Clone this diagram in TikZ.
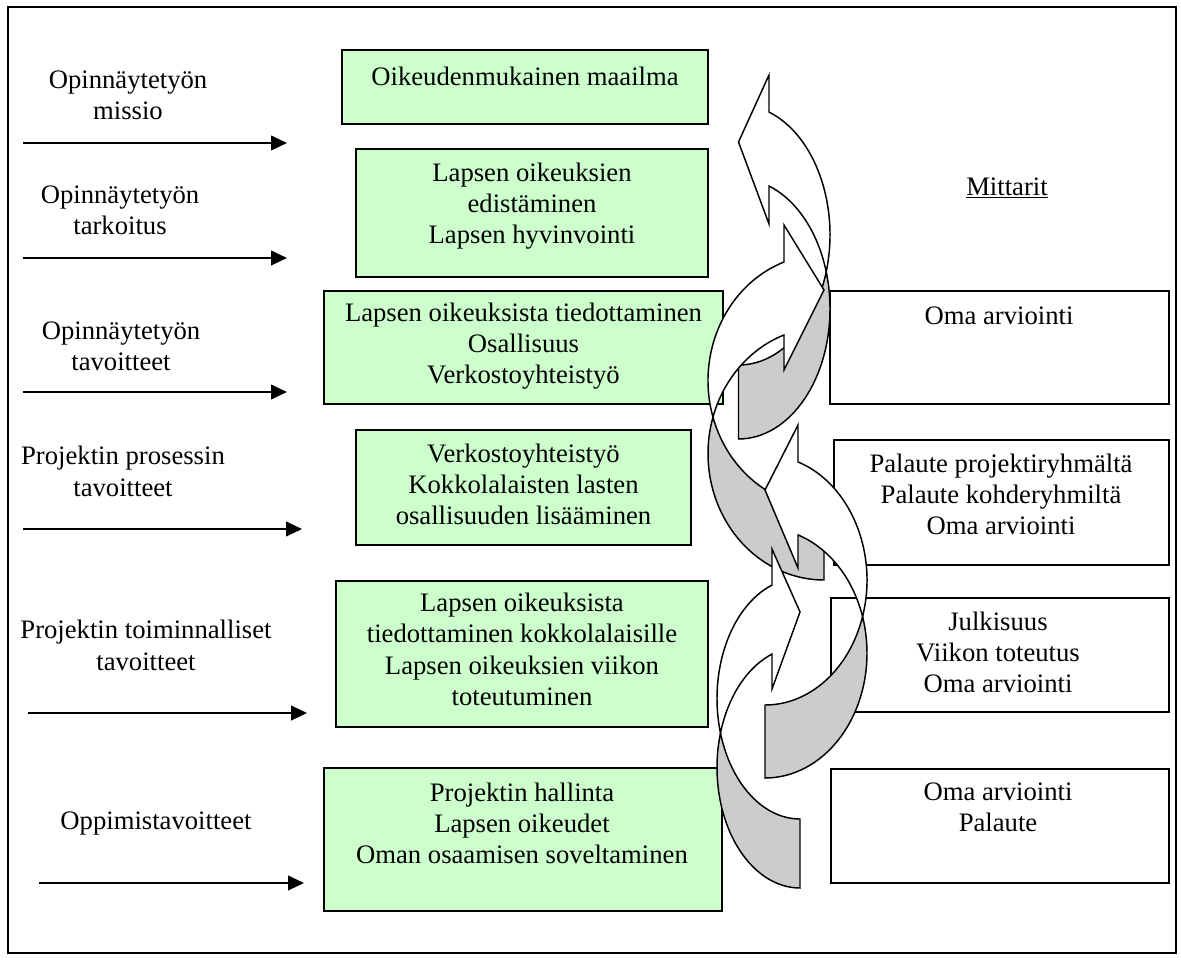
\documentclass[tikz,border=0pt]{standalone}
\usepackage{fontspec}
\setmainfont{Liberation Serif}
\usetikzlibrary{calc,arrows.meta}
\definecolor{boxgreen}{HTML}{CCFFCC}
\definecolor{backgray}{HTML}{CCCCCC}
\tikzset{
  txt/.style={font=\fontsize{20}{23.5}\selectfont, align=center, inner sep=0pt,
    execute at begin node=\strut, execute at end node=\strut},
  sz/.style n args={2}{minimum width=#1*0.75pt, minimum height=#2*0.75pt, inner sep=0pt},
  gbox/.style={draw=black, line width=1.5pt, fill=boxgreen},
  wbox/.style={draw=black, line width=1.5pt, fill=white},
  inarrow/.style={line width=1.5pt, -{Triangle[length=12pt,width=11pt]}},
  frontband/.style={draw=black, line width=1.1pt, fill=white},
  backband/.style={draw=black, line width=1.1pt, fill=backgray},
}
% curved arrow, band on the left, head at the top pointing right
% #1 r, #2 bottom, #3 w, #4 hR, #5 thickness, #6 head length, #7 head top, #8 tip y, #9 head bottom
\newcommand\CurvR[9]{%
  \pgfmathsetmacro\cvA{#2-#4}%
  \pgfmathsetmacro\cvB{#2-#4-#5}%
  \pgfmathsetmacro\cvN{360-acos(-#6/#3)}%
  \pgfmathsetmacro\cvD{asin(#5/(2*#4))}%
  \pgfmathsetmacro\cvIA{180+\cvD}%
  \pgfmathsetmacro\cvIB{180-\cvD}%
  \pgfmathsetmacro\cvX{#1-#6}%
  \pgfmathsetmacro\cvT{#2-#5}%
  \draw[backband] ($(#1,\cvA)+(\cvIA:#3 and #4)$) arc[start angle=\cvIA, end angle=90, x radius=#3, y radius=#4] -- (#1,\cvT) arc[start angle=90, end angle=\cvIB, x radius=#3, y radius=#4] -- cycle;
  \draw[frontband] ($(#1,\cvB)+(\cvIB:#3 and #4)$) arc[start angle=\cvIB, end angle=\cvN, x radius=#3, y radius=#4] -- (\cvX,#7) -- (#1,#8) -- (\cvX,#9) -- ($(#1,\cvA)+(\cvN:#3 and #4)$) arc[start angle=\cvN, end angle=\cvIA, x radius=#3, y radius=#4] -- cycle;
}
% curved arrow, band on the right, head at the top pointing left
\newcommand\CurvL[9]{%
  \pgfmathsetmacro\cvA{#2-#4}%
  \pgfmathsetmacro\cvB{#2-#4-#5}%
  \pgfmathsetmacro\cvN{acos(-#6/#3)-180}%
  \pgfmathsetmacro\cvD{asin(#5/(2*#4))}%
  \pgfmathsetmacro\cvX{#1+#6}%
  \pgfmathsetmacro\cvT{#2-#5}%
  \draw[backband] ($(#1,\cvA)+(-\cvD:#3 and #4)$) arc[start angle=-\cvD, end angle=90, x radius=#3, y radius=#4] -- (#1,\cvT) arc[start angle=90, end angle=\cvD, x radius=#3, y radius=#4] -- cycle;
  \draw[frontband] ($(#1,\cvB)+(\cvD:#3 and #4)$) arc[start angle=\cvD, end angle=\cvN, x radius=#3, y radius=#4] -- (\cvX,#7) -- (#1,#8) -- (\cvX,#9) -- ($(#1,\cvA)+(\cvN:#3 and #4)$) arc[start angle=\cvN, end angle=-\cvD, x radius=#3, y radius=#4] -- cycle;
}
\begin{document}
\begin{tikzpicture}[x=0.75pt,y=-0.75pt]
\useasboundingbox (0,0) rectangle (1181,960);
\draw[line width=1.5pt] (8,7) rectangle (1176,953);

% left labels and arrows
\node[txt] (l1) at (128,100) {Opinnäytetyön\\missio};
\node[txt] (l2) at (120,215) {Opinnäytetyön\\tarkoitus};
\node[txt] (l3) at (121,351) {Opinnäytetyön\\tavoitteet};
\node[txt] (l4) at (123,476) {Projektin prosessin\\tavoitteet};
\node[txt] (l5) at (146,650) {Projektin toiminnalliset\\tavoitteet};
\node[txt] (l6) at (156,823) {Oppimistavoitteet};

\coordinate (s1) at (23,143);  \coordinate (e1) at (287,143);
\coordinate (s2) at (23,258);  \coordinate (e2) at (287,258);
\coordinate (s3) at (23,392);  \coordinate (e3) at (287,392);
\coordinate (s4) at (23,529);  \coordinate (e4) at (302,529);
\coordinate (s5) at (28,713);  \coordinate (e5) at (307,713);
\coordinate (s6) at (39,883);  \coordinate (e6) at (304,883);
\foreach \i in {1,...,6} {\draw[inarrow] (s\i) -- (e\i);}

% green boxes
\node[gbox, sz={366}{74}]  (b1) at (525,87) {};
\node[gbox, sz={352}{128}] (b2) at (532,213) {};
\node[gbox, sz={399}{113}] (b3) at (523.5,347.5) {};
\node[gbox, sz={335}{115}] (b4) at (523.5,487.5) {};
\node[gbox, sz={372}{146}] (b5) at (522,654) {};
\node[gbox, sz={398}{143}] (b6) at (523,839.5) {};

\node[txt] (t1) at (525,79) {Oikeudenmukainen maailma};
\node[txt] (t2) at (532,208) {Lapsen oikeuksien\\edistäminen\\Lapsen hyvinvointi};
\node[txt] (t3) at (523.5,348) {Lapsen oikeuksista tiedottaminen\\Osallisuus\\Verkostoyhteistyö};
\node[txt] (t4) at (523.5,489) {Verkostoyhteistyö\\Kokkolalaisten lasten\\osallisuuden lisääminen};
\node[txt] (t5) at (522,654) {Lapsen oikeuksista\\tiedottaminen kokkolalaisille\\Lapsen oikeuksien viikon\\toteutuminen};
\node[txt] (t6) at (522,828) {Projektin hallinta\\Lapsen oikeudet\\Oman osaamisen soveltaminen};

% right boxes
\node[txt] (m) at (1007,189) {\underline{Mittarit}};
\node[wbox, sz={339}{113}] (r3) at (999.5,347.5) {};
\node[wbox, sz={335}{125}] (r4) at (1001.5,502.5) {};
\node[wbox, sz={338}{114}] (r5) at (1000,655) {};
\node[wbox, sz={338}{114}] (r6) at (1000,826) {};
\node[txt] (u3) at (999,318) {Oma arviointi};
\node[txt] (u4) at (1001,499) {Palaute projektiryhmältä\\Palaute kohderyhmiltä\\Oma arviointi};
\node[txt] (u5) at (998,657) {Julkisuus\\Viikon toteutus\\Oma arviointi};
\node[txt] (u6) at (998,812) {Oma arviointi\\Palaute};

% curved arrows (upper ones first, lower ones on top)
\CurvL{738.5}{439}{91.5}{130.2}{74}{30.5}{75}{142}{224}
\CurvR{824}{580}{116}{126.4}{73}{40}{225}{290}{370}
\CurvL{765}{778}{102}{124.9}{73}{33}{425}{490}{568}
\CurvR{800}{888}{83}{120.5}{69}{28}{549}{612}{689}
\end{tikzpicture}
\end{document}
